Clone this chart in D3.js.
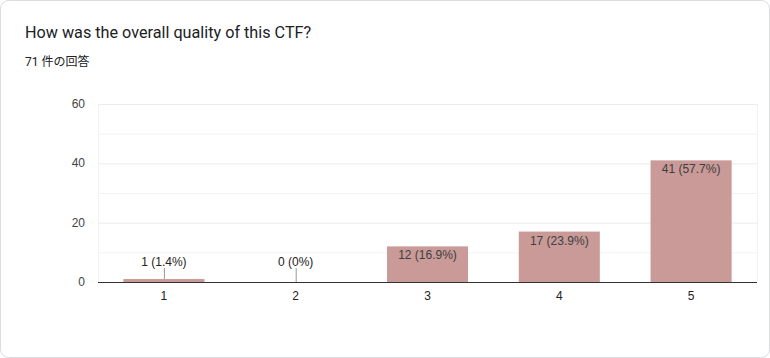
<!DOCTYPE html>
<html><head><meta charset="utf-8">
<script src="https://cdn.jsdelivr.net/npm/d3@7"></script>
<style>
html,body{margin:0;padding:0;background:#fff;}
svg{display:block;font-family:Roboto, Arial, sans-serif;}
.ch{font-family:Arial, 'Liberation Sans', sans-serif;}
</style></head>
<body>
<svg id="c" width="770" height="358"></svg>
<script>
const title = "How was the overall quality of this CTF?";
const subtitle = "71 件の回答";
const categories = ["1","2","3","4","5"];
const counts = [1, 0, 12, 17, 41];
const percents = ["1.4%","0%","16.9%","23.9%","57.7%"];
const yTicks = [0, 20, 40, 60];
const yMinorTicks = [10, 30, 50];

(function(){
const svg = d3.select("#c");
svg.append("rect").attr("x",0.5).attr("y",0.5).attr("width",769).attr("height",357)
  .attr("rx",8).attr("fill","#fff").attr("stroke","#dadce0");

svg.append("text").attr("x",25).attr("y",38).attr("font-size",16.2).attr("fill","#202124").text(title);
svg.append("text").attr("x",25).attr("y",66).attr("font-size",12).attr("fill","#202124")
  .attr("font-family","Roboto, 'Noto Sans CJK JP', sans-serif").text(subtitle);

const pL=98, pR=757, pT=104, pB=282;
const x = d3.scaleBand().domain(categories).range([pL,pR]).paddingInner(0.385).paddingOuter(0.1925);
const y = d3.scaleLinear().domain([0,60]).range([pB,pT]);

const g = svg.append("g").attr("class","ch");
g.selectAll(".mg").data(yMinorTicks).join("line")
  .attr("x1",pL).attr("x2",pR).attr("y1",d=>y(d)+0.5).attr("y2",d=>y(d)+0.5)
  .attr("stroke","#f3f3f3");
g.selectAll(".Mg").data(yTicks.filter(d=>d>0)).join("line")
  .attr("x1",pL).attr("x2",pR).attr("y1",d=>y(d)+0.5).attr("y2",d=>y(d)+0.5)
  .attr("stroke","#ebebeb");
[pL,pR].forEach(xx=>g.append("line").attr("x1",xx+0.5).attr("x2",xx+0.5).attr("y1",pT).attr("y2",pB).attr("stroke","#f3f3f3"));

g.selectAll(".yl").data(yTicks).join("text")
  .attr("x",85).attr("y",d=>y(d)+4).attr("text-anchor","end").attr("font-size",12).attr("fill","#444")
  .text(d=>d);

g.selectAll(".bar").data(categories).join("rect")
  .attr("x",d=>x(d)).attr("width",x.bandwidth())
  .attr("y",(d,i)=>y(counts[i])).attr("height",(d,i)=>pB-y(counts[i]))
  .attr("fill","#c99a98");

g.append("line").attr("x1",pL).attr("x2",pR).attr("y1",pB+0.5).attr("y2",pB+0.5).attr("stroke","#333");

g.selectAll(".xl").data(categories).join("text")
  .attr("x",d=>x(d)+x.bandwidth()/2).attr("y",300).attr("text-anchor","middle").attr("font-size",12).attr("fill","#222")
  .text(d=>d);

categories.forEach((c,i)=>{
  const cx = x(c)+x.bandwidth()/2;
  const label = counts[i]+" ("+percents[i]+")";
  const h = pB - y(counts[i]);
  if (h > 20) {
    g.append("text").attr("x",cx).attr("y",y(counts[i])+13).attr("text-anchor","middle")
      .attr("font-size",12).attr("fill","#404040").text(label);
  } else {
    g.append("line").attr("x1",cx+0.5).attr("x2",cx+0.5).attr("y1",268).attr("y2",y(counts[i])).attr("stroke","#999");
    g.append("text").attr("x",cx).attr("y",266).attr("text-anchor","middle")
      .attr("font-size",12).attr("fill","#222").text(label);
  }
});
})();
</script>
</body></html>
